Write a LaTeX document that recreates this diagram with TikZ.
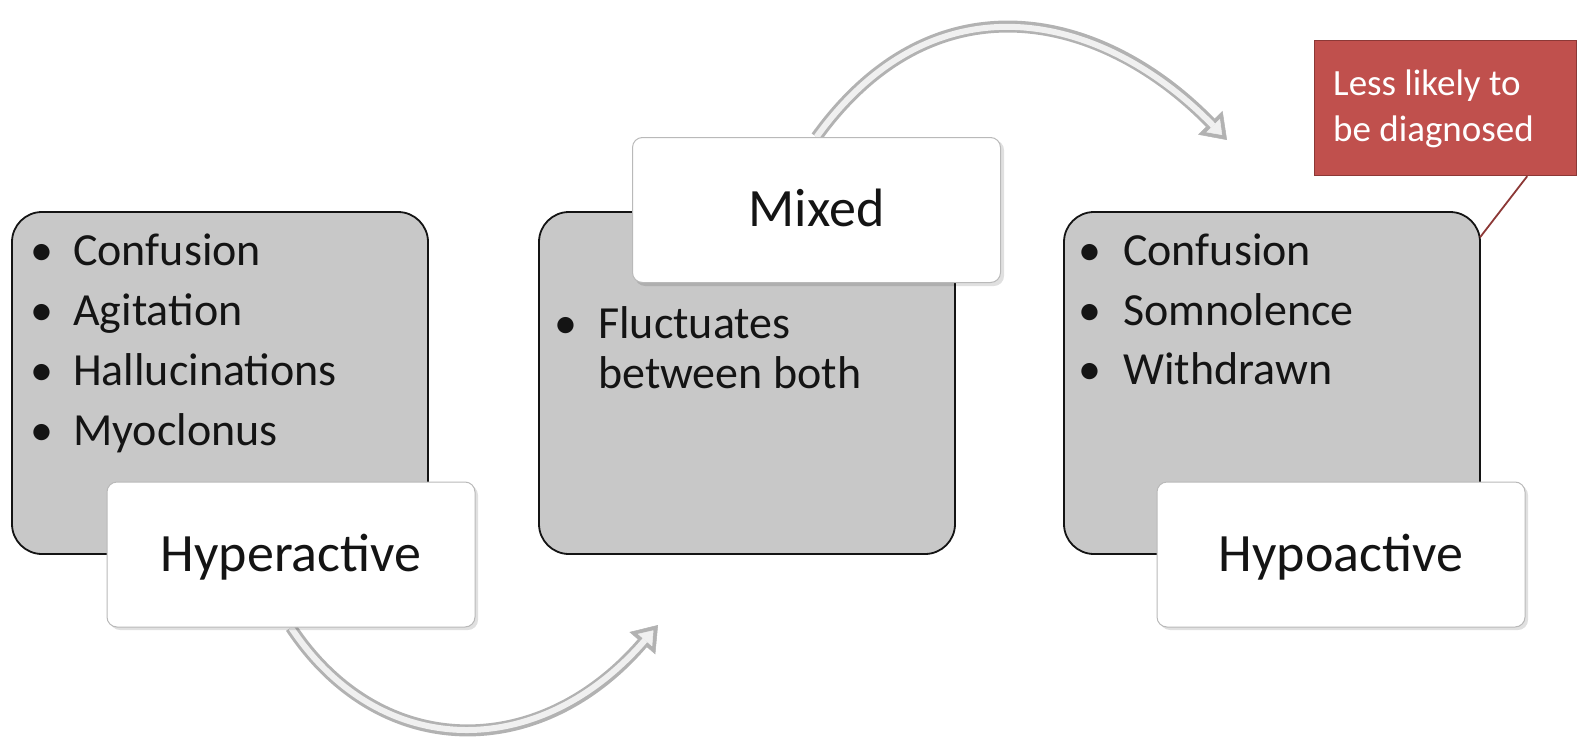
\documentclass[tikz,border=0pt]{standalone}
\usepackage{fontspec}
\setmainfont{Carlito}
\usetikzlibrary{arrows.meta}
\definecolor{panelgray}{RGB}{200,200,200}
\definecolor{calloutred}{RGB}{192,80,77}
\definecolor{calloutedge}{RGB}{140,56,54}
\definecolor{ink}{RGB}{20,20,20}
\pgfdeclarelayer{bg}
\pgfsetlayers{bg,main}
\tikzset{
  panel/.style={draw=ink, line width=1.8pt, fill=panelgray, rounded corners=30pt,
    minimum width=416pt, minimum height=342pt, inner sep=0pt, outer sep=0pt,
    anchor=north west},
  labelbox/.style={draw=gray!55, line width=1pt, fill=white, rounded corners=10pt,
    minimum width=368pt, minimum height=145pt, inner sep=0pt, text=ink,
    font=\fontsize{54}{60}\selectfont, text height=33pt, text depth=0pt},
  boxshadow/.style={fill=black, opacity=0.12, rounded corners=10pt},
  itemtext/.style={anchor=base west, inner sep=0pt, text=ink, font=\fontsize{46}{55}\selectfont},
  bulletmark/.style={anchor=base, inner sep=0pt, text=ink, font=\fontsize{46}{55}\selectfont},
  calloutbox/.style={draw=calloutedge, line width=1.2pt, fill=calloutred,
    minimum width=262pt, minimum height=135pt, inner sep=0pt, anchor=north west},
  callouttext/.style={anchor=base west, inner sep=0pt, text=white, font=\fontsize{37}{46}\selectfont},
  pointer/.style={draw=calloutedge, line width=1.8pt},
  tubeout/.style={line width=12pt, draw=gray!60,
    -{Triangle[length=24pt,width=34pt,line width=0.5pt]}},
  tubein/.style={line width=6pt, draw=gray!12, shorten >=7pt,
    -{Triangle[length=13pt,width=19pt,line width=0.5pt]}},
}
\begin{document}
\begin{tikzpicture}[x=1pt,y=-1pt]
\useasboundingbox (0,0) rectangle (1577,744);

% the three grey panels
\node[panel] (hyperpanel) at (12,212) {};
\node[panel] (mixedpanel) at (539,212) {};
\node[panel] (hypopanel) at (1064,212) {};

% hyperactive symptoms
\node[bulletmark] (h1b) at (42,265) {•};
\node[itemtext]   (h1)  at (73,265) {Confusion};
\node[bulletmark] (h2b) at (42,325) {•};
\node[itemtext]   (h2)  at (73,325) {Agitation};
\node[bulletmark] (h3b) at (42,385) {•};
\node[itemtext]   (h3)  at (73,385) {Hallucinations};
\node[bulletmark] (h4b) at (42,445) {•};
\node[itemtext]   (h4)  at (73,445) {Myoclonus};

% mixed
\node[bulletmark] (m1b) at (566,338) {•};
\node[itemtext]   (m1)  at (598,338) {Fluctuates};
\node[itemtext]   (m2)  at (598,388) {between both};

% hypoactive symptoms
\node[bulletmark] (p1b) at (1090,265) {•};
\node[itemtext]   (p1)  at (1123,265) {Confusion};
\node[bulletmark] (p2b) at (1090,325) {•};
\node[itemtext]   (p2)  at (1123,325) {Somnolence};
\node[bulletmark] (p3b) at (1090,384) {•};
\node[itemtext]   (p3)  at (1123,384) {Withdrawn};

% soft shadows under the title tags
\fill[boxshadow] (110,485) rectangle (478,630);
\fill[boxshadow] (635,140) rectangle (1004,286);
\fill[boxshadow] (1160,485) rectangle (1528,630);

% title tags
\node[labelbox] (hyper) at (291,554.5) {Hyperactive};
\node[labelbox] (mixed) at (816.5,210) {Mixed};
\node[labelbox] (hypo)  at (1341,554.5) {Hypoactive};

% callout
\node[calloutbox] (note) at (1314,40) {};
\node[callouttext] (note1) at (1333,95) {Less likely to};
\node[callouttext] (note2) at (1333,141) {be diagnosed};
\draw[pointer] (note.south east) ++(-50,0) -- (hypopanel.35);

% curved transition arrows, behind the boxes
\coordinate (toMixed) at (658,625);
\coordinate (toHypo) at (1227,140);
\begin{pgfonlayer}{bg}
  \draw[tubeout] (hyper.south) .. controls (380,762) and (540,762) .. (toMixed);
  \draw[tubein]  (hyper.south) .. controls (380,762) and (540,762) .. (toMixed);
  \draw[tubeout] (mixed.north) .. controls (937,-30) and (1106,15) .. (toHypo);
  \draw[tubein]  (mixed.north) .. controls (937,-30) and (1106,15) .. (toHypo);
\end{pgfonlayer}
\end{tikzpicture}
\end{document}
